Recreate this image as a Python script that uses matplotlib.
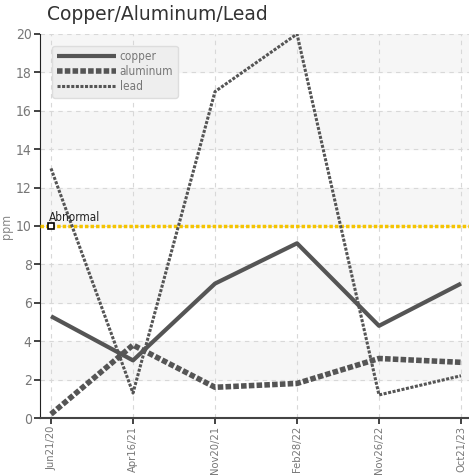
import numpy as np
import matplotlib
matplotlib.use("Agg")
import matplotlib.pyplot as plt

# values
dates = ["Jun21/20", "Apr16/21", "Nov20/21", "Feb28/22", "Nov26/22", "Oct21/23"]
copper = [5.3, 3.0, 7.0, 9.1, 4.8, 7.0]
aluminum = [0.2, 3.8, 1.6, 1.8, 3.1, 2.9]
lead = [13.0, 1.3, 17.0, 20.0, 1.2, 2.2]
abnormal = 10
yticks = [0, 2, 4, 6, 8, 10, 12, 14, 16, 18, 20]

narrow = dict(family="DejaVu Sans", stretch="condensed")
grey = "#555555"

fig = plt.figure(figsize=(4.69, 4.75), dpi=100)
ax = fig.add_axes([40/469, 57/475, 429/469, 384/475])
x = np.arange(len(dates))

# alternating bands
for i, lo in enumerate(yticks[:-1]):
	if i % 2 == 1:
		ax.axhspan(lo, lo + 2, color="#f6f6f6", zorder=0)

ax.plot(x, copper, color=grey, lw=3, solid_capstyle="butt", label="copper", zorder=4)
ax.plot(x, aluminum, color=grey, lw=4, ls=(0, (1, 0.4)), label="aluminum", zorder=4)
ax.plot(x, lead, color=grey, lw=2.2, ls=(0, (1, 0.5)), label="lead", zorder=4)

ax.axhline(abnormal, color="#f5c400", lw=2.5, ls=(0, (1, 0.6)), zorder=3)
ax.plot([0], [abnormal], marker="s", ms=4, mfc="white", mec="black", mew=1.2, zorder=5)
ax.text(-0.02, abnormal + 0.25, "Abnormal", fontsize=8.5, color="#222222", zorder=6, **narrow)

ax.set_xlim(-11/82, 418/82)
ax.set_ylim(0, 20)
ax.set_xticks(x)
ax.set_xticklabels(dates, rotation=90, fontsize=8, color="#777777", **narrow)
ax.set_yticks(yticks)
ax.set_yticklabels([str(v) for v in yticks], fontsize=10, color="#777777", **narrow)
ax.set_ylabel("ppm", fontsize=9, color="#888888", labelpad=2, **narrow)

ax.grid(True, ls=(0, (4, 4)), color="#d8d8d8", lw=0.8, zorder=1)
ax.set_axisbelow(True)
for s in ["top", "right"]:
	ax.spines[s].set_visible(False)
ax.spines["left"].set_color("#222222")
ax.spines["bottom"].set_color("#444444")
ax.spines["bottom"].set_linewidth(1.5)
ax.tick_params(axis="both", length=4, width=1.2, color="#222222", pad=2)
ax.tick_params(axis="x", pad=1.5)

leg = ax.legend(loc="upper left", bbox_to_anchor=(0.015, 0.985), prop=dict(size=8.5, **narrow),
	labelcolor="#777777", handlelength=5, handletextpad=0.3, labelspacing=0.15,
	fancybox=True, framealpha=1, facecolor="#eeeeee", edgecolor="#dddddd", borderpad=0.4)

fig.text(47/469, 1 - 14/475, "Copper/Aluminum/Lead", fontsize=13.5, color="#333333", va="center")

fig.savefig("out.png", dpi=100)
